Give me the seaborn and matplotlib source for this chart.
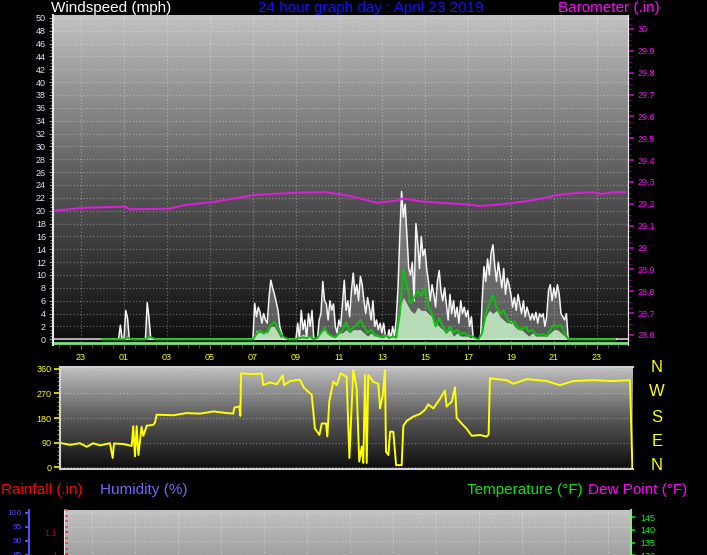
import numpy as np
import pandas as pd
import matplotlib
matplotlib.use('Agg')
import matplotlib.pyplot as plt
from matplotlib.colors import LinearSegmentedColormap
from matplotlib.ticker import MultipleLocator
import seaborn as sns

plt.rcParams['font.family'] = ['Liberation Sans', 'DejaVu Sans']

# ---- data ----
hour_ticks = [-1, 1, 3, 5, 7, 9, 11, 13, 15, 17, 19, 21, 23]
hour_labels = ['23', '01', '03', '05', '07', '09', '11', '13', '15', '17', '19', '21', '23']

# wind gust (mph), 5 minute samples from 00:00, one row per hour
gust = [
    0, 0, 0, 0, 0, 0, 0, 0, 0, 0, 2.2, 0,
    0, 4.5, 3.3, 0, 0, 0, 0, 0, 0, 0, 0, 0,
    0, 5.7, 3.3, 0, 0, 0, 0, 0, 0, 0, 0, 0,
    0, 0, 0, 0, 0, 0, 0, 0, 0, 0, 0, 0,
    0, 0, 0, 0, 0, 0, 0, 0, 0, 0, 0, 0,
    0, 0, 0, 0, 0, 0, 0, 0, 0, 0, 0, 0,
    0, 0, 0, 0, 0, 0, 0, 0, 0, 0, 0, 0,
    0, 5.6, 3.5, 5.0, 4.2, 2.5, 4.0, 3.0, 2.5, 6.5, 9.2, 8.0,
    7.0, 5.8, 4.5, 2.0, 1.0, 0, 0, 0, 0, 0, 0, 0,
    0, 2.5, 0, 4.5, 1.5, 3.0, 0, 4.0, 2.0, 4.5, 0, 0,
    0, 3.0, 4.0, 9.0, 6.0, 5.5, 3.0, 6.0, 4.5, 5.5, 2.0, 1.0,
    3.0, 2.0, 5.6, 9.2, 4.5, 6.0, 3.5, 7.5, 10.3, 7.0, 8.5, 6.0,
    9.8, 8.5, 6.0, 4.0, 6.5, 5.0, 3.0, 6.0, 2.0, 3.0, 1.5, 2.5,
    1.0, 2.5, 0.5, 0, 1.5, 0, 2.0, 0.5, 3.0, 8.0, 16.0, 23.0,
    19.0, 21.0, 16.0, 11.0, 10.0, 12.0, 6.0, 18.0, 15.0, 11.0, 16.0, 13.0,
    14.0, 11.0, 9.0, 6.0, 8.5, 7.0, 5.0, 9.0, 10.7, 7.5, 6.0, 8.0,
    5.5, 3.0, 7.0, 4.0, 6.0, 3.5, 5.0, 2.5, 6.0, 4.0, 5.0, 3.5,
    4.5, 2.0, 3.5, 0, 0, 0, 0, 0, 6.0, 11.3, 9.0, 12.5,
    10.0, 13.5, 14.7, 11.5, 9.0, 12.0, 10.0, 8.0, 11.0, 7.0, 9.5, 8.5,
    7.0, 5.0, 6.5, 4.5, 7.0, 5.5, 4.0, 6.0, 3.5, 5.0, 4.0, 3.0,
    4.0, 3.0, 4.2, 2.5, 4.0, 3.5, 4.0, 2.0, 3.5, 7.5, 8.5, 6.0,
    8.0, 6.5, 8.5, 7.0, 4.0, 3.5, 3.0, 4.0, 0, 0, 0, 0,
    0, 0, 0, 0, 0, 0, 0, 0, 0, 0, 0, 0,
    0, 0, 0, 0, 0, 0, 0, 0, 0, 0, 0, 0,
]

# average speed (mph), 10 minute samples
avg_speed = [
    0, 0, 0, 0, 0, 0,
    0, 0.3, 0, 0, 0, 0,
    0, 0.4, 0.2, 0, 0, 0,
    0, 0, 0, 0, 0, 0,
    0, 0, 0, 0, 0, 0,
    0, 0, 0, 0, 0, 0,
    0, 0, 0, 0, 0, 0,
    0, 0.8, 1.4, 0.9, 1.2, 2.2,
    2.7, 1.8, 0.6, 0.2, 0, 0,
    0, 0.2, 0.3, 0.2, 0.4, 0,
    0.2, 1.0, 1.8, 0.9, 0.5, 0.3,
    0.9, 1.4, 2.6, 1.2, 1.8, 2.2,
    3.0, 2.0, 1.0, 1.5, 0.8, 0.5,
    0.3, 0.6, 0.2, 0.4, 0.3, 4.0,
    10.8, 8.5, 5.6, 6.5, 7.5, 6.8,
    8.0, 5.0, 4.0, 2.0, 3.3, 2.0,
    1.0, 2.0, 1.0, 1.5, 0.8, 1.0,
    0.6, 0.5, 0.2, 0, 1.0, 4.0,
    5.5, 6.9, 5.0, 4.0, 4.5, 3.2,
    2.5, 2.8, 1.8, 1.5, 2.0, 1.2,
    1.5, 0.8, 0.7, 0.8, 0.5, 1.5,
    2.2, 2.0, 2.2, 1.0, 0, 0,
    0, 0, 0, 0, 0, 0,
    0, 0, 0, 0, 0, 0,
]

# one-minute speed (light green), 10 minute samples
wind_speed = [
    0, 0, 0, 0, 0, 0,
    0, 0, 0, 0, 0, 0,
    0, 0, 0, 0, 0, 0,
    0, 0, 0, 0, 0, 0,
    0, 0, 0, 0, 0, 0,
    0, 0, 0, 0, 0, 0,
    0, 0, 0, 0, 0, 0,
    0, 1.5, 1.0, 1.2, 1.0, 2.0,
    2.0, 1.0, 0, 0, 0, 0,
    0, 0.5, 0.8, 0.5, 0.5, 0,
    0.5, 1.0, 1.5, 1.0, 0.5, 0.5,
    1.0, 1.0, 1.5, 1.0, 1.5, 1.5,
    1.5, 1.0, 0.5, 1.0, 0.5, 0.5,
    0, 0.5, 0, 0.5, 0, 5.0,
    6.5, 5.5, 4.5, 4.0, 5.0, 4.5,
    4.5, 4.0, 3.5, 2.5, 2.0, 1.5,
    1.0, 1.5, 0.5, 1.0, 0.5, 0.5,
    0.5, 0, 0, 0, 1.5, 3.5,
    4.5, 4.0, 4.5, 3.5, 3.0, 2.5,
    3.0, 2.0, 1.5, 1.5, 1.0, 0.5,
    1.0, 0.5, 0.5, 0.5, 0.5, 1.0,
    1.5, 1.5, 1.0, 0.5, 0, 0,
    0, 0, 0, 0, 0, 0,
    0, 0, 0, 0, 0, 0,
]

# barometer (inHg)
baro_time = [-2.21, -0.81, 1.05, 1.28, 3.14, 3.84, 5.05, 5.93, 7.0, 9.05, 10.44,
             11.51, 12.77, 13.70, 13.98, 14.91, 16.02, 17.09, 17.56, 18.63, 19.56,
             20.35, 21.14, 21.88, 22.81, 23.23, 23.74, 24.30]
baro = [29.169, 29.182, 29.187, 29.175, 29.178, 29.195, 29.207, 29.221, 29.240,
        29.251, 29.253, 29.236, 29.205, 29.214, 29.225, 29.210, 29.203, 29.196,
        29.190, 29.198, 29.210, 29.222, 29.240, 29.248, 29.253, 29.245, 29.253,
        29.253]

# wind direction (degrees)
dir_time = [-2.22, -1.83, -1.37, -1.05, -0.75, -0.43, 0.03, 0.16, 0.22, 0.66,
            1.05, 1.12, 1.20, 1.28, 1.36, 1.51, 1.59, 1.75, 2.06, 2.14, 2.21,
            2.99, 3.62, 4.24, 4.86, 5.48, 5.79, 5.84, 6.07, 6.12, 6.15, 6.72,
            7.12, 7.19, 7.50, 7.82, 8.10, 8.16, 8.44, 8.90, 9.09, 9.45, 9.60,
            9.81, 9.92, 10.12, 10.18, 10.27, 10.46, 10.62, 10.80, 11.08, 11.21,
            11.39, 11.55, 11.67, 11.79, 11.86, 11.94, 12.02, 12.09, 12.33, 12.56,
            12.64, 12.77, 12.87, 12.92, 13.03, 13.11, 13.26, 13.39, 13.65, 13.73,
            13.89, 14.19, 14.51, 14.74, 14.89, 15.13, 15.44, 15.67, 15.75, 15.99,
            16.14, 16.22, 16.45, 16.69, 16.92, 17.31, 17.62, 17.71, 17.77, 18.55,
            18.86, 19.49, 20.42, 21.04, 21.66, 22.60, 23.53, 24.31, 24.42]
direction = [88, 82, 88, 75, 88, 80, 88, 34, 87, 85,
             78, 150, 40, 150, 45, 148, 115, 152, 155, 165, 192,
             190, 198, 196, 204, 198, 196, 218, 222, 188, 343, 340,
             342, 300, 310, 303, 336, 300, 315, 320, 290, 265, 142,
             118, 160, 160, 113, 240, 313, 300, 343, 330, 34,
             355, 290, 21, 76, 16, 337, 16, 337, 312, 305,
             215, 265, 355, 57, 45, 130, 130, 8, 8, 152,
             170, 185, 195, 210, 230, 215, 250, 280, 222, 240,
             292, 180, 160, 140, 115, 118, 112, 120, 325, 318,
             305, 322, 315, 300, 315, 318, 315, 318, 0]

# visible ticks of the lower panel (it runs off the bottom of the image)
rain_ticks = [1.0, 1.1]
hum_ticks = [85, 90, 95, 100]
temp_ticks = [130, 135, 140, 145]

# ---- layout helpers ----
W, H = 707, 555


def box(l, t, r, b):
    return [l / W, 1 - b / H, (r - l) / W, (b - t) / H]


grad = LinearSegmentedColormap.from_list('bg', ['#0c0c0c', '#5a5a5a', '#c2c2c2'])


def gradient(ax, x0, x1, y0, y1):
    ax.imshow(np.linspace(1, 0, 256).reshape(-1, 1), cmap=grad, extent=[x0, x1, y0, y1],
              aspect='auto', zorder=0, interpolation='bilinear')


fig = plt.figure(figsize=(W / 100, H / 100), dpi=100, facecolor='black')

# ---- wind speed / barometer ----
df_gust = pd.DataFrame({'t': np.arange(len(gust)) / 12, 'gust': gust})
df_avg = pd.DataFrame({'t': np.arange(len(avg_speed)) / 6, 'avg': avg_speed, 'spd': wind_speed})

ax = fig.add_axes(box(53, 15, 628, 345))
ax.set_xlim(-2.3, 24.45)
ax.set_ylim(-0.89, 50.44)
gradient(ax, -2.3, 24.45, -0.89, 50.44)
ax.set_yticks(range(0, 51, 2))
ax.yaxis.set_minor_locator(MultipleLocator(0.5))
ax.set_xticks(hour_ticks)
ax.set_xticklabels(hour_labels)
ax.xaxis.set_minor_locator(MultipleLocator(0.5))
ax.grid(True, color='#ffffff', alpha=0.3, ls=':', lw=0.9)
ax.tick_params(axis='y', colors='#9a9a9a', labelcolor='#dfe6ff', labelsize=6.5, length=3, pad=2)
ax.tick_params(axis='y', which='minor', colors='#8a8a8a', length=2)
ax.tick_params(axis='x', colors='#808080', labelcolor='#ffff00', labelsize=6.5, length=3, pad=3)
ax.tick_params(axis='x', which='minor', colors='#606060', length=2)
for s in ['top', 'bottom']:
    ax.spines[s].set_visible(False)
ax.spines['left'].set_color('#e8e8e8')
ax.spines['left'].set_linewidth(1.5)
ax.spines['right'].set_color('#e8e8e8')

ax.axhline(0, color='#c8c8c8', lw=1.2, zorder=2)
ax.axhline(-0.65, color='#7ee07e', lw=2, zorder=2)
ax.fill_between(df_gust['t'], df_gust['gust'], color='white', alpha=0.3, lw=0, zorder=2)
ax.fill_between(df_avg['t'], df_avg['spd'], color='#c8f2c8', alpha=0.85, lw=0, zorder=3)
sns.lineplot(data=df_gust, x='t', y='gust', ax=ax, color='#f4f4f4', lw=1.1, estimator=None, zorder=4)
sns.lineplot(data=df_avg, x='t', y='avg', ax=ax, color='#10c010', lw=1.5, estimator=None, zorder=5)
ax.set_xlabel('')
ax.set_ylabel('')

ax_b = ax.twinx()
ax_b.set_ylim(28.554, 30.064)
sns.lineplot(x=baro_time, y=baro, ax=ax_b, color='#d820d8', lw=1.5, estimator=None)
baro_ticks = np.round(np.arange(28.6, 30.01, 0.1), 1)
ax_b.set_yticks(baro_ticks)
ax_b.set_yticklabels([f'{v:g}' for v in baro_ticks])
ax_b.yaxis.set_minor_locator(MultipleLocator(0.025))
ax_b.tick_params(axis='y', colors='#a000a0', labelcolor='#ff00ff', labelsize=6.5, length=4, width=1.5, pad=3)
ax_b.tick_params(axis='y', which='minor', colors='#900090', length=2)
for s in ['top', 'bottom', 'left']:
    ax_b.spines[s].set_visible(False)
ax_b.spines['right'].set_color('#e8e8e8')
ax_b.set_xlim(-2.3, 24.45)

# ---- wind direction ----
ax_d = fig.add_axes(box(60, 367, 633, 469))
ax_d.set_xlim(-2.3, 24.45)
ax_d.set_ylim(-6.2, 366.2)
gradient(ax_d, -2.3, 24.45, -6.2, 366.2)
sns.lineplot(x=dir_time, y=direction, ax=ax_d, color='#ffff00', lw=1.4, estimator=None, sort=False)
ax_d.set_yticks([0, 90, 180, 270, 360])
ax_d.yaxis.set_minor_locator(MultipleLocator(15))
ax_d.set_xticks([])
ax_d.grid(True, axis='y', color='#ffffff', alpha=0.3, ls=':', lw=0.9)
ax_d.tick_params(axis='y', colors='#c8c800', labelcolor='#ffff00', labelsize=6.5, length=4, width=1.5, pad=2)
ax_d.tick_params(axis='y', which='minor', colors='#a0a000', length=2)
for s in ['top', 'bottom', 'left']:
    ax_d.spines[s].set_color('#d0d0d0')
    ax_d.spines[s].set_linewidth(1.5)
ax_d.spines['right'].set_visible(False)

for lbl, y in zip(['N', 'W', 'S', 'E', 'N'], [367, 392, 417, 442, 466]):
    fig.text(657 / W, 1 - y / H, lbl, color='#ffff00', fontsize=12, ha='center', va='center')

# ---- lower panel (rain / humidity / temperature) ----
ax_r = fig.add_axes(box(64, 510, 631, 790))
ax_r.set_xlim(-2.3, 24.07)
ax_r.set_ylim(-0.07, 1.2)
gradient(ax_r, -2.3, 24.07, -0.07, 1.2)
ax_r.set_xticks(hour_ticks)
ax_r.set_xticklabels([])
ax_r.set_yticks(rain_ticks)
ax_r.set_yticklabels([f'{v:g}' for v in rain_ticks])
ax_r.yaxis.set_minor_locator(MultipleLocator(0.025))
ax_r.grid(True, axis='x', color='#ffffff', alpha=0.35, ls=':', lw=0.9)
ax_r.tick_params(axis='y', direction='in', colors='#ff3030', labelcolor='#c00000', labelsize=6.5, length=3, width=1.5, pad=5)
ax_r.tick_params(axis='y', which='minor', direction='in', colors='#ff4040', length=3, width=1.2)
ax_r.tick_params(axis='x', length=0)
for s in ['top', 'bottom', 'right']:
    ax_r.spines[s].set_visible(False)
ax_r.spines['left'].set_color('#e8e8e8')

ax_h = ax_r.twinx()
ax_h.set_ylim(1, 101)
ax_h.yaxis.set_ticks_position('left')
ax_h.yaxis.set_label_position('left')
ax_h.spines['left'].set_position(('axes', -0.062))
ax_h.spines['left'].set_color('#5050ff')
ax_h.spines['left'].set_linewidth(1.5)
for s in ['top', 'bottom', 'right']:
    ax_h.spines[s].set_visible(False)
ax_h.set_yticks(hum_ticks)
ax_h.grid(True, axis='y', color='#ffffff', alpha=0.3, ls=':', lw=0.9)
ax_h.tick_params(axis='y', colors='#5050ff', labelcolor='#4848ff', labelsize=6, length=3, width=1.5, pad=2)

ax_t = ax_r.twinx()
ax_t.set_ylim(36.8, 147.9)
ax_t.set_yticks(temp_ticks)
ax_t.tick_params(axis='y', colors='#00c000', labelcolor='#00ff00', labelsize=6.5, length=3, width=1.5, pad=4)
for s in ['top', 'bottom', 'left']:
    ax_t.spines[s].set_visible(False)
ax_t.spines['right'].set_color('#90e090')
ax_t.spines['right'].set_linewidth(1.5)

# ---- titles ----
fig.text(51 / W, 1 - 8 / H, 'Windspeed (mph)', color='white', fontsize=11, va='center')
fig.text(258 / W, 1 - 8 / H, '24 hour graph day : April 23 2019', color='#1010ff', fontsize=11, va='center')
fig.text(558 / W, 1 - 8 / H, 'Barometer (.in)', color='#ff00ff', fontsize=11, va='center')
fig.text(1 / W, 1 - 490 / H, 'Rainfall (.in)', color='#ff0000', fontsize=11, va='center')
fig.text(100 / W, 1 - 490 / H, 'Humidity (%)', color='#6a6aff', fontsize=11, va='center')
fig.text(467 / W, 1 - 490 / H, 'Temperature (°F)', color='#10e010', fontsize=11, va='center')
fig.text(588 / W, 1 - 490 / H, 'Dew Point (°F)', color='#ff00ff', fontsize=11, va='center')

fig.savefig('out.png', dpi=100, facecolor='black')
